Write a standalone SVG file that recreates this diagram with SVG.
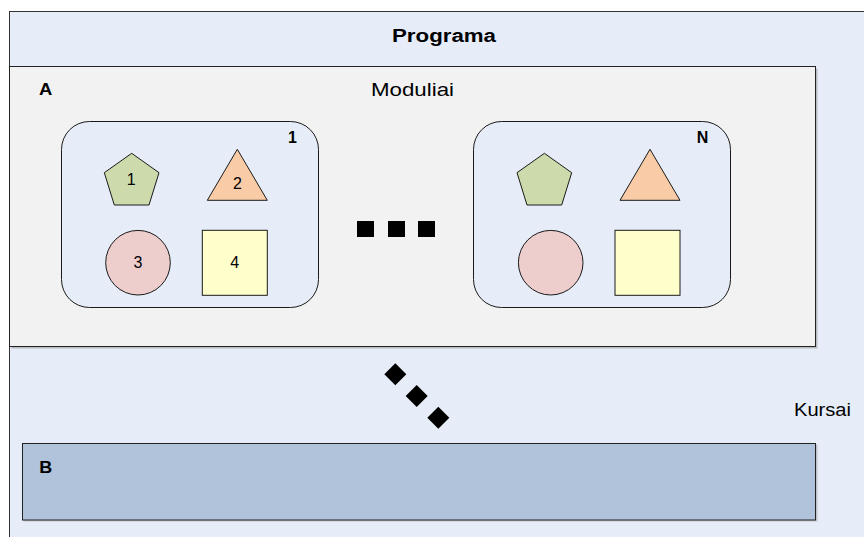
<svg xmlns="http://www.w3.org/2000/svg" width="864" height="537" viewBox="0 0 864 537">
<defs>
<style>
.t{font-family:"Liberation Sans",Arial,sans-serif;fill:#000}
.b{font-weight:bold}
.sh{stroke:#1a1a1a;stroke-width:1}
.mod{fill:#E6EDF8;stroke:#1a1a1a;stroke-width:1}
.pent{fill:#CDDAAB}
.tri{fill:#F9CCA7}
.circ{fill:#EECDCD}
.sq{fill:#FFFFCC}
.dot{fill:#000}
</style>
<g id="shapes">
<polygon class="sh pent" points="131.7,153.3 159,172.7 149,205 114.3,205 104.3,172.7"/>
<polygon class="sh tri" points="237.3,149.3 267.3,200.3 207.3,200.3"/>
<circle class="sh circ" cx="138" cy="262.7" r="32.3"/>
<rect class="sh sq" x="202.3" y="230.3" width="65" height="65"/>
</g>
</defs>
<rect width="864" height="537" fill="#ffffff"/>
<g id="programa">
<rect x="9.5" y="11.5" width="900" height="600" fill="#E6EDF8" stroke="#333" stroke-width="1"/>
<text class="t b" x="392" y="42" font-size="18" textLength="104" lengthAdjust="spacingAndGlyphs">Programa</text>
</g>
<g id="A">
<rect x="11.5" y="68.5" width="806" height="280" fill="#999" opacity="0.6"/>
<rect x="9.5" y="66.5" width="806" height="280" fill="#F2F2F2" stroke="#222" stroke-width="1"/>
<text class="t b" x="39" y="95" font-size="17" textLength="13.3" lengthAdjust="spacingAndGlyphs">A</text>
<text class="t" x="371" y="96" font-size="18.5" textLength="83" lengthAdjust="spacingAndGlyphs">Moduliai</text>
</g>
<g id="module1">
<rect class="mod" x="61.5" y="121.5" width="257" height="186" rx="28" ry="28"/>
<use href="#shapes"/>
<text class="t b" x="292.5" y="142.7" font-size="16" text-anchor="middle">1</text>
<text class="t" x="131.3" y="185" font-size="16" text-anchor="middle">1</text>
<text class="t" x="237.5" y="189" font-size="16" text-anchor="middle">2</text>
<text class="t" x="138" y="267.7" font-size="16" text-anchor="middle">3</text>
<text class="t" x="234.7" y="267.7" font-size="16" text-anchor="middle">4</text>
</g>
<g id="moduleN">
<rect class="mod" x="473.5" y="121.5" width="257" height="186" rx="28" ry="28"/>
<use href="#shapes" transform="translate(412.7,0)"/>
<text class="t b" x="702.5" y="142.7" font-size="16" text-anchor="middle">N</text>
</g>
<g id="ellipsis-h">
<rect class="dot" x="357" y="221" width="17" height="16"/>
<rect class="dot" x="388" y="221" width="17" height="16"/>
<rect class="dot" x="418" y="221" width="17" height="16"/>
</g>
<g id="ellipsis-d">
<polygon class="dot" points="395.3,363.3 406.3,374.3 395.3,385.3 384.3,374.3"/>
<polygon class="dot" points="416.7,385 427.7,396 416.7,407 405.7,396"/>
<polygon class="dot" points="438.3,406.7 449.3,417.7 438.3,428.7 427.3,417.7"/>
</g>
<g id="kursai">
<text class="t" x="794" y="416" font-size="17.5" textLength="57" lengthAdjust="spacingAndGlyphs">Kursai</text>
</g>
<g id="B">
<rect x="23.5" y="444.5" width="794" height="77" fill="#999" opacity="0.5"/>
<rect x="22.5" y="443.5" width="793" height="76.5" fill="#B0C3DB" stroke="#222" stroke-width="1"/>
<text class="t b" x="39.3" y="473.3" font-size="17" textLength="13" lengthAdjust="spacingAndGlyphs">B</text>
</g>
<g id="connectors"/>
</svg>
